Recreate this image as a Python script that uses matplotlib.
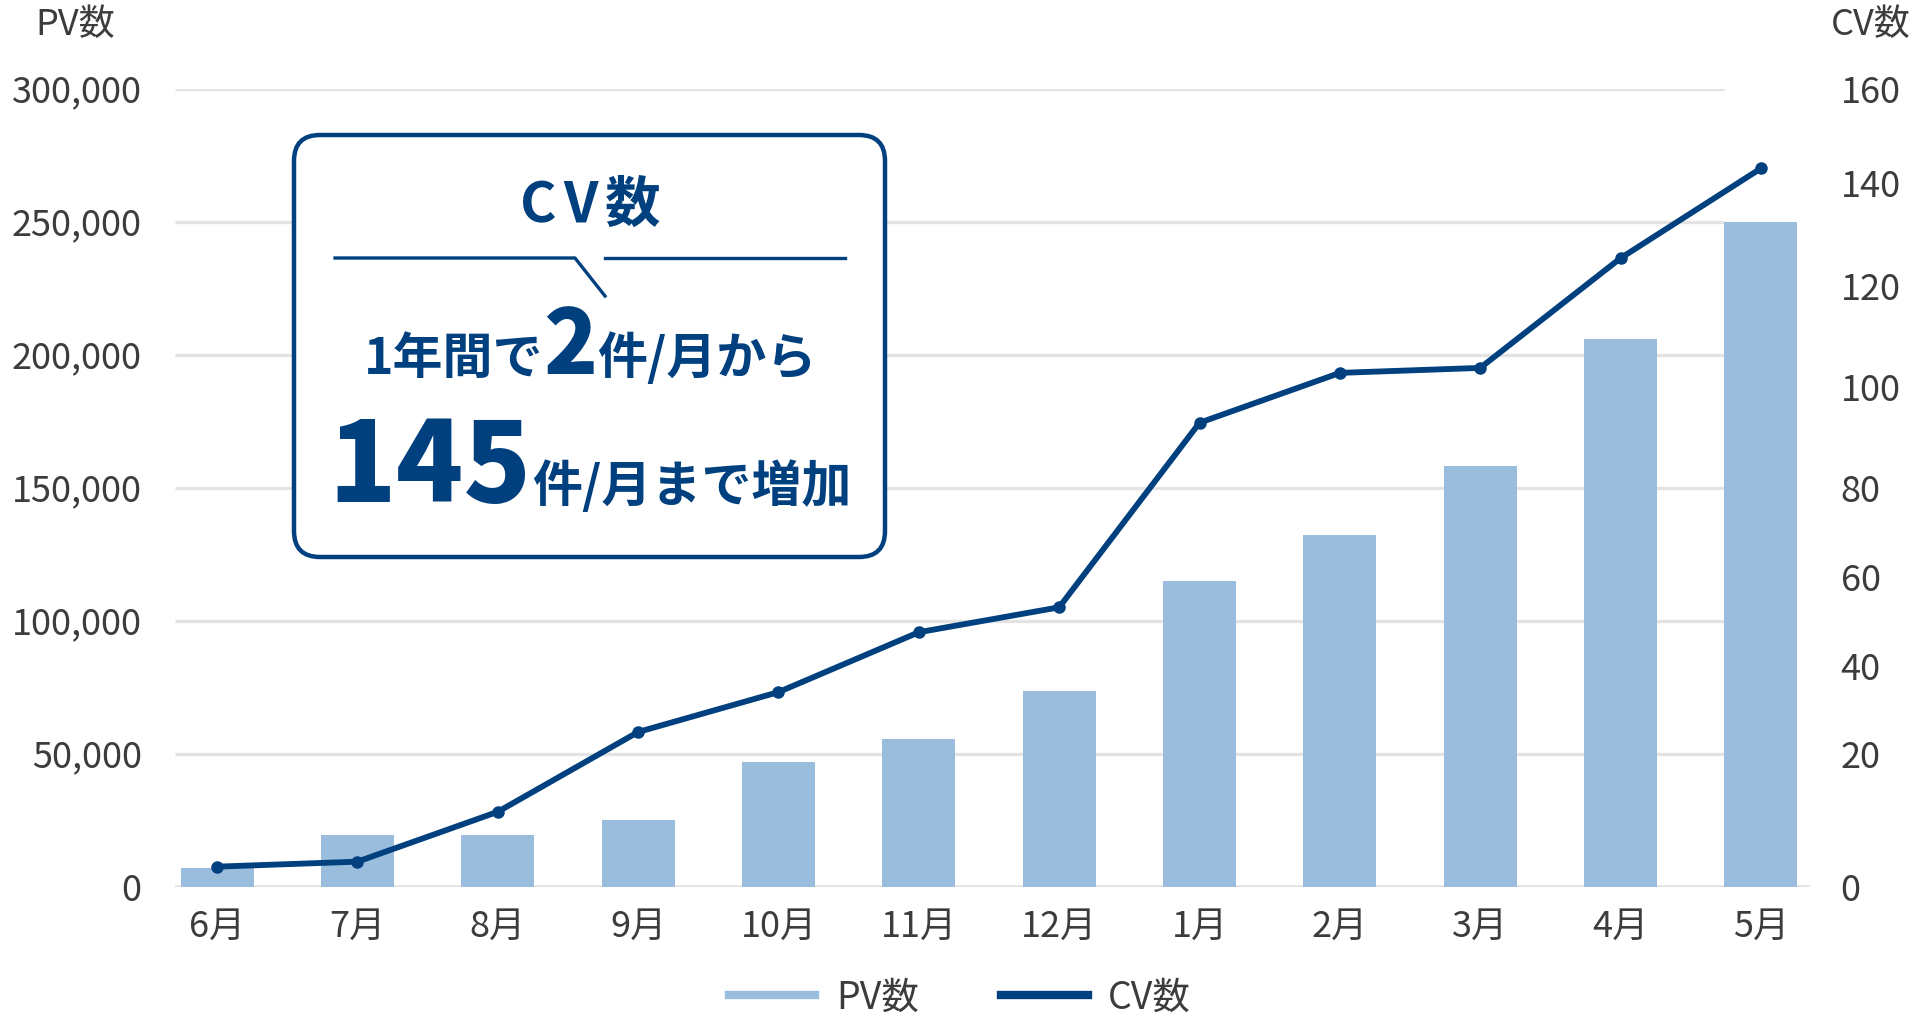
import matplotlib
matplotlib.use("Agg")
import matplotlib.pyplot as plt
from matplotlib.lines import Line2D
from matplotlib.patches import FancyBboxPatch
from matplotlib.transforms import IdentityTransform
import numpy as np

plt.rcParams['font.family'] = ['Noto Sans CJK JP', 'DejaVu Sans']

# ---- data ----
months = ["6月", "7月", "8月", "9月", "10月", "11月", "12月", "1月", "2月", "3月", "4月", "5月"]
pv = [7000, 19500, 19500, 25000, 47000, 55500, 73500, 115000, 132000, 158000, 206000, 250000]
cv = [4, 5, 15, 31, 39, 51, 56, 93, 103, 104, 126, 144]
pv_ticks = [0, 50000, 100000, 150000, 200000, 250000, 300000]
cv_labels = ["0", "20", "40", "60", "80", "100", "120", "140", "160"]

NAVY = "#00407f"
BAR = "#9bbddd"
GRID = "#e3e3e3"
TXT = "#3c3c3c"

W, H = 1920, 1035
fig = plt.figure(figsize=(W / 100, H / 100), dpi=100)

# axes box in pixels of the reference
left, right, top, bottom = 175, 1810, 88.6, 886.6
ax = fig.add_axes([left / W, 1 - bottom / H, (right - left) / W, (bottom - top) / H])
x = np.arange(len(months))

ax.hlines(pv_ticks[1:], -0.3, 10.74, color=GRID, lw=2.4, zorder=0)
ax.axhline(0, color=GRID, lw=2.6, zorder=0)
ax.bar(x, pv, width=0.52, color=BAR, zorder=2)

ax.set_xlim(-0.3, 11.35)
ax.set_ylim(0, 300000)
ax.set_xticks(x, months)
ax.set_yticks(pv_ticks, [f"{v:,}" for v in pv_ticks])
for s in ax.spines.values():
    s.set_visible(False)
ax.tick_params(axis='y', length=0, pad=24, labelsize=26, labelcolor=TXT)
ax.tick_params(axis='x', length=0, pad=16, labelsize=26, labelcolor=TXT)

ax2 = ax.twinx()
ax2.plot(x, cv, color=NAVY, lw=4.2, marker='o', ms=8, zorder=3)
ax2.set_ylim(0, 160)
# right-hand labels sit where the reference draws them
ax2.set_yticks([0, 26.6, 44.2, 62.1, 80, 100.1, 120.4, 141, 160], cv_labels)
for s in ax2.spines.values():
    s.set_visible(False)
ax2.tick_params(axis='y', length=0, pad=22, labelsize=26, labelcolor=TXT)

# axis titles
fig.text(75 / W, 1 - 25 / H, "PV数", ha='center', va='center', fontsize=26, color=TXT)
fig.text(1871 / W, 1 - 25 / H, "CV数", ha='center', va='center', fontsize=26, color=TXT)

# ---- callout box ----
box = FancyBboxPatch((294, H - 557), 591, 422,
                     boxstyle="round,pad=0,rounding_size=26",
                     transform=IdentityTransform(), facecolor='white',
                     edgecolor=NAVY, lw=3.2, zorder=5)
fig.add_artist(box)

fig.add_artist(Line2D([335, 575, 605], [H - 258, H - 258, H - 296], color=NAVY, lw=2.4,
                      transform=IdentityTransform(), zorder=6))
fig.add_artist(Line2D([605, 845], [H - 258, H - 258], color=NAVY, lw=2.4,
                      transform=IdentityTransform(), zorder=6))

renderer = fig.canvas.get_renderer()


def draw_line(parts, cx, baseline, gap=0):
    texts = []
    for s, size, weight in parts:
        t = fig.text(0, 0, s, fontsize=size, fontweight=weight, color=NAVY,
                     transform=IdentityTransform(), ha='left', va='baseline', zorder=6)
        texts.append(t)
    widths = [t.get_window_extent(renderer).width for t in texts]
    xpos = cx - (sum(widths) + gap * (len(texts) - 1)) / 2
    for t, w in zip(texts, widths):
        t.set_position((xpos, H - baseline))
        xpos += w + gap


draw_line([("C", 40, 'bold'), ("V", 40, 'bold'), ("数", 40, 'bold')], 590, 222, gap=7)
draw_line([("1年間で", 36, 'bold'), ("2", 64, 'heavy'), ("件/月から", 36, 'bold')], 590, 374)
draw_line([("145", 80, 'heavy'), ("件/月まで増加", 36, 'bold')], 590, 502)

# ---- legend ----
handles = [Line2D([], [], color=BAR, lw=6), Line2D([], [], color=NAVY, lw=6)]
leg = fig.legend(handles, ["PV数", "CV数"], loc='center', bbox_to_anchor=(960 / W, 1 - 998 / H),
                 ncol=2, frameon=False, fontsize=27, handlelength=2.3, handletextpad=0.55,
                 columnspacing=2.2)
for t in leg.get_texts():
    t.set_color(TXT)

fig.savefig("out.png", dpi=100)
